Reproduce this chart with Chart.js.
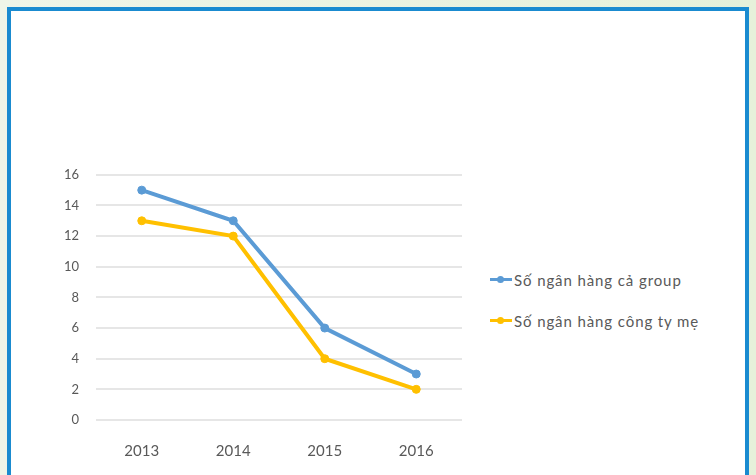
<!DOCTYPE html>
<html>
<head>
<meta charset="utf-8">
<script src="https://cdn.jsdelivr.net/npm/chart.js@4"></script>
<style>
  html, body { margin: 0; padding: 0; }
  body {
    width: 756px; height: 475px; overflow: hidden; position: relative;
    background: linear-gradient(90deg, #eff5e8 0%, #e6f1da 100%);
    font-family: Lato, "Open Sans", sans-serif;
  }
  .frame {
    position: absolute; left: 7px; top: 7px; width: 734px; height: 480px;
    background: #fff; border: 4px solid #1a8bd0;
  }
  .chart-box { position: absolute; left: 40px; top: 150px; width: 430px; height: 320px; }
  .legend { position: absolute; left: 490px; top: 270px; font-size: 15px; letter-spacing: 0.9px; color: #595959; }
  .legend .item { display: flex; align-items: center; height: 20px; margin-bottom: 21px; }
  .legend .mark { position: relative; width: 22px; height: 20px; margin-right: 2px; }
  .legend .mark i { position: absolute; left: 0; top: 8px; width: 22px; height: 3px; }
  .legend .mark b { position: absolute; left: 7px; top: 6px; width: 7px; height: 7px; border-radius: 50%; }
</style>
</head>
<body>
<div class="frame"></div>
<div class="chart-box"><canvas id="banksChart"></canvas></div>
<div class="legend" id="legend"></div>
<script>
const years = ['2013', '2014', '2015', '2016'];
const groupBanks = [15, 13, 6, 3];
const parentBanks = [13, 12, 4, 2];
const seriesNames = ['Số ngân hàng cả group', 'Số ngân hàng công ty mẹ'];
const seriesColors = ['#5b9bd5', '#ffc000'];

document.addEventListener("DOMContentLoaded", () => {
    const ctx = document.getElementById('banksChart').getContext('2d');
    const fontFamily = 'Lato, "Open Sans", sans-serif';

    const chart = new Chart(ctx, {
        type: 'line',
        data: {
            labels: years,
            datasets: [groupBanks, parentBanks].map((values, i) => ({
                label: seriesNames[i],
                data: values,
                borderColor: seriesColors[i],
                backgroundColor: seriesColors[i],
                borderWidth: 4,
                pointRadius: 4,
                pointBorderWidth: 1,
                pointHoverRadius: 4,
                tension: 0,
            }))
        },
        options: {
            responsive: true,
            maintainAspectRatio: false,
            animation: false,
            layout: { padding: { top: 23, right: 8 } },
            plugins: { legend: { display: false }, tooltip: { enabled: false } },
            scales: {
                x: {
                    offset: true,
                    grid: { display: false },
                    border: { display: false },
                    ticks: { color: '#595959', font: { family: fontFamily, size: 15 }, padding: 14 },
                    afterFit: scale => { scale.height = 50; }
                },
                y: {
                    min: 0,
                    max: 16,
                    grid: { color: '#e6e6e6', lineWidth: 2, drawTicks: false },
                    border: { display: false },
                    ticks: { stepSize: 2, color: '#595959', font: { family: fontFamily, size: 13 }, padding: 17 },
                    afterFit: scale => { scale.width = 56; }
                }
            }
        }
    });

    // legend with the line-and-dot marker
    const legend = document.getElementById('legend');
    chart.data.datasets.forEach(ds => {
        const item = document.createElement('div');
        item.className = 'item';
        item.innerHTML = '<span class="mark"><i style="background:' + ds.borderColor +
            '"></i><b style="background:' + ds.borderColor + '"></b></span><span>' + ds.label + '</span>';
        legend.appendChild(item);
    });
});
</script>
</body>
</html>
